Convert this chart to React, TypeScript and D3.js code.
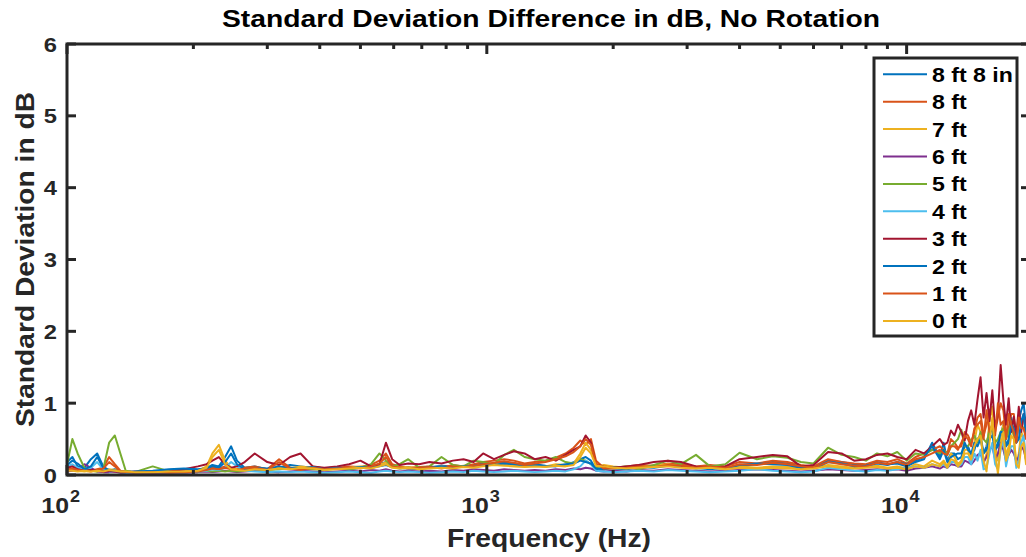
import React from "react";
import * as d3 from "d3";

const freqs = [
  100, 103, 106, 110, 114, 118, 122, 126, 130, 134,
  138, 145, 160, 175, 190, 205, 215, 222, 230, 238,
  246, 254, 265, 280, 300, 320, 340, 360, 385, 410,
  440, 470, 500, 530, 555, 575, 595, 620, 650, 690,
  730, 780, 830, 880, 930, 980, 1040, 1100, 1160, 1230,
  1300, 1380, 1460, 1540, 1610, 1670, 1720, 1770, 1820, 1900,
  2000, 2150, 2300, 2500, 2700, 2900, 3150, 3400, 3700, 4000,
  4400, 4800, 5200, 5600, 6000, 6500, 7000, 7500, 8000, 8500,
  9000, 9500, 10000, 10500, 11000, 11500,
  12000, 12250, 12500, 12750, 13000, 13250, 13500, 13750, 14000, 14250,
  14500, 14750, 15000, 15250, 15500, 15750, 16000, 16250, 16500, 16750,
  17000, 17250, 17500, 17750, 18000, 18250, 18500, 18750, 19000, 19250,
  19500, 19750, 20000,
];

const seriesNames = ["8 ft 8 in", "8 ft", "7 ft", "6 ft", "5 ft", "4 ft", "3 ft", "2 ft", "1 ft", "0 ft"];
const seriesColors = ["#0072BD", "#D95319", "#EDB120", "#7E2F8E", "#77AC30", "#4DBEEE", "#A2142F", "#0072BD", "#D95319", "#EDB120"];

const s8ft8in = [
  0.18, 0.25, 0.12, 0.10, 0.22, 0.30, 0.12, 0.06, 0.08, 0.05,
  0.05, 0.04, 0.05, 0.07, 0.08, 0.07, 0.10, 0.14, 0.12, 0.25,
  0.40, 0.20, 0.10, 0.12, 0.08, 0.10, 0.14, 0.12, 0.10, 0.09,
  0.11, 0.08, 0.10, 0.12, 0.15, 0.18, 0.12, 0.10, 0.09, 0.08,
  0.10, 0.13, 0.12, 0.11, 0.14, 0.16, 0.15, 0.18, 0.16, 0.14,
  0.15, 0.13, 0.12, 0.14, 0.18, 0.22, 0.25, 0.20, 0.08, 0.10,
  0.09, 0.08, 0.10, 0.12, 0.15, 0.13, 0.10, 0.08, 0.10, 0.12,
  0.15, 0.18, 0.16, 0.12, 0.10, 0.20, 0.18, 0.15, 0.14, 0.18,
  0.15, 0.16, 0.12, 0.18, 0.22, 0.45,
  0.25, 0.45, 0.20, 0.30, 0.30, 0.22, 0.25, 0.40, 0.40, 0.28,
  0.35, 0.50, 0.55, 0.30, 0.40, 0.65, 0.60, 0.35, 0.45, 0.55,
  0.70, 0.40, 0.50, 0.80, 0.60, 0.45, 0.75, 0.90, 1.00, 0.65,
  0.70, 0.85, 0.80,
];
const s8ft = [
  0.10, 0.12, 0.08, 0.07, 0.06, 0.08, 0.10, 0.25, 0.15, 0.06,
  0.05, 0.04, 0.05, 0.04, 0.05, 0.06, 0.08, 0.10, 0.09, 0.12,
  0.10, 0.08, 0.10, 0.12, 0.08, 0.22, 0.10, 0.08, 0.12, 0.09,
  0.10, 0.12, 0.11, 0.14, 0.20, 0.30, 0.15, 0.12, 0.10, 0.11,
  0.12, 0.10, 0.14, 0.12, 0.15, 0.18, 0.20, 0.22, 0.20, 0.16,
  0.18, 0.20, 0.24, 0.30, 0.38, 0.48, 0.42, 0.50, 0.20, 0.10,
  0.10, 0.12, 0.14, 0.13, 0.16, 0.15, 0.12, 0.14, 0.12, 0.18,
  0.16, 0.20, 0.18, 0.14, 0.12, 0.22, 0.18, 0.16, 0.15, 0.20,
  0.18, 0.22, 0.16, 0.25, 0.30, 0.35,
  0.40, 0.35, 0.30, 0.50, 0.45, 0.38, 0.40, 0.60, 0.55, 0.45,
  0.60, 0.80, 0.85, 0.55, 0.70, 0.90, 0.95, 0.60, 0.80, 1.00,
  0.90, 0.55, 0.65, 0.85, 0.85, 0.50, 0.70, 0.75, 0.80, 0.55,
  0.60, 0.75, 0.70,
];
const s7ft = [
  0.08, 0.07, 0.06, 0.05, 0.06, 0.05, 0.06, 0.08, 0.07, 0.05,
  0.04, 0.04, 0.03, 0.04, 0.05, 0.06, 0.12, 0.30, 0.42, 0.20,
  0.10, 0.08, 0.07, 0.09, 0.08, 0.10, 0.09, 0.12, 0.10, 0.08,
  0.09, 0.10, 0.12, 0.10, 0.14, 0.18, 0.12, 0.10, 0.11, 0.09,
  0.10, 0.12, 0.10, 0.13, 0.12, 0.14, 0.16, 0.15, 0.14, 0.12,
  0.13, 0.12, 0.15, 0.14, 0.16, 0.30, 0.45, 0.35, 0.12, 0.14,
  0.12, 0.10, 0.11, 0.13, 0.15, 0.12, 0.10, 0.11, 0.09, 0.12,
  0.10, 0.12, 0.11, 0.09, 0.10, 0.14, 0.12, 0.10, 0.11, 0.13,
  0.10, 0.12, 0.09, 0.15, 0.12, 0.20,
  0.15, 0.20, 0.12, 0.30, 0.25, 0.15, 0.20, 0.35, 0.35, 0.20,
  0.45, 0.70, 0.60, 0.15, 0.30, 0.75, 0.95, 0.40, 0.20, 0.55,
  0.70, 0.25, 0.40, 0.65, 0.55, 0.15, 0.30, 0.60, 0.50, 0.20,
  0.35, 0.55, 0.45,
];
const s6ft = [
  0.05, 0.06, 0.08, 0.15, 0.10, 0.05, 0.04, 0.04, 0.05, 0.03,
  0.03, 0.03, 0.02, 0.03, 0.03, 0.04, 0.05, 0.04, 0.05, 0.06,
  0.05, 0.04, 0.05, 0.06, 0.05, 0.04, 0.05, 0.06, 0.05, 0.04,
  0.05, 0.06, 0.05, 0.07, 0.06, 0.08, 0.06, 0.05, 0.06, 0.05,
  0.06, 0.05, 0.07, 0.06, 0.08, 0.07, 0.06, 0.08, 0.07, 0.06,
  0.07, 0.06, 0.08, 0.07, 0.09, 0.08, 0.10, 0.09, 0.06, 0.05,
  0.06, 0.05, 0.07, 0.06, 0.08, 0.07, 0.06, 0.05, 0.06, 0.07,
  0.08, 0.07, 0.06, 0.05, 0.06, 0.08, 0.07, 0.06, 0.07, 0.08,
  0.07, 0.08, 0.06, 0.09, 0.10, 0.12,
  0.09, 0.12, 0.10, 0.15, 0.14, 0.12, 0.12, 0.20, 0.18, 0.15,
  0.20, 0.28, 0.30, 0.18, 0.25, 0.35, 0.40, 0.22, 0.30, 0.45,
  0.35, 0.20, 0.28, 0.35, 0.30, 0.20, 0.25, 0.40, 0.35, 0.22,
  0.25, 0.35, 0.30,
];
const s5ft = [
  0.15, 0.50, 0.30, 0.10, 0.06, 0.05, 0.08, 0.45, 0.55, 0.30,
  0.06, 0.04, 0.12, 0.05, 0.04, 0.05, 0.06, 0.05, 0.06, 0.05,
  0.06, 0.05, 0.06, 0.08, 0.07, 0.08, 0.10, 0.09, 0.08, 0.07,
  0.09, 0.08, 0.10, 0.15, 0.30, 0.20, 0.12, 0.15, 0.22, 0.10,
  0.12, 0.25, 0.14, 0.12, 0.20, 0.18, 0.15, 0.28, 0.35, 0.25,
  0.22, 0.20, 0.25, 0.18, 0.16, 0.22, 0.20, 0.15, 0.10, 0.08,
  0.10, 0.12, 0.08, 0.14, 0.20, 0.15, 0.28, 0.12, 0.15, 0.31,
  0.22, 0.26, 0.24, 0.18, 0.16, 0.38, 0.28, 0.25, 0.20, 0.30,
  0.26, 0.32, 0.20, 0.30, 0.28, 0.35,
  0.30, 0.35, 0.28, 0.40, 0.45, 0.50, 0.63, 0.40, 0.40, 0.48,
  0.55, 0.45, 0.60, 0.50, 0.45, 0.60, 0.70, 0.45, 0.50, 0.60,
  0.65, 0.50, 0.60, 0.75, 0.55, 0.60, 0.80, 0.70, 0.65, 0.55,
  0.70, 0.65, 0.60,
];
const s4ft = [
  0.12, 0.15, 0.10, 0.08, 0.10, 0.18, 0.08, 0.05, 0.06, 0.04,
  0.03, 0.03, 0.04, 0.03, 0.04, 0.05, 0.06, 0.08, 0.07, 0.10,
  0.18, 0.12, 0.06, 0.05, 0.04, 0.05, 0.04, 0.05, 0.04, 0.03,
  0.04, 0.05, 0.04, 0.03, 0.05, 0.06, 0.05, 0.04, 0.05, 0.04,
  0.03, 0.04, 0.05, 0.04, 0.06, 0.05, 0.04, 0.05, 0.06, 0.05,
  0.04, 0.05, 0.06, 0.05, 0.08, 0.12, 0.20, 0.15, 0.06, 0.05,
  0.04, 0.05, 0.06, 0.05, 0.07, 0.06, 0.05, 0.04, 0.05, 0.06,
  0.08, 0.06, 0.05, 0.04, 0.05, 0.10, 0.08, 0.06, 0.05, 0.07,
  0.06, 0.08, 0.10, 0.12, 0.10, 0.15,
  0.12, 0.15, 0.10, 0.18, 0.18, 0.12, 0.15, 0.25, 0.25, 0.15,
  0.30, 0.20, 0.35, 0.08, 0.10, 0.30, 0.45, 0.15, 0.08, 0.35,
  0.50, 0.12, 0.30, 0.40, 0.40, 0.10, 0.20, 0.45, 0.55, 0.20,
  0.30, 0.45, 0.40,
];
const s3ft = [
  0.10, 0.12, 0.08, 0.06, 0.07, 0.06, 0.05, 0.06, 0.05, 0.04,
  0.04, 0.05, 0.04, 0.05, 0.08, 0.12, 0.15, 0.20, 0.25, 0.15,
  0.10, 0.12, 0.18, 0.30, 0.18, 0.14, 0.25, 0.30, 0.12, 0.10,
  0.12, 0.15, 0.20, 0.12, 0.15, 0.45, 0.22, 0.14, 0.16, 0.15,
  0.18, 0.16, 0.20, 0.22, 0.18, 0.30, 0.22, 0.28, 0.33, 0.30,
  0.22, 0.25, 0.20, 0.28, 0.35, 0.40, 0.55, 0.45, 0.15, 0.12,
  0.10, 0.12, 0.14, 0.18, 0.20, 0.18, 0.12, 0.10, 0.12, 0.22,
  0.25, 0.28, 0.26, 0.12, 0.14, 0.32, 0.30, 0.20, 0.22, 0.28,
  0.30, 0.25, 0.22, 0.35, 0.30, 0.40,
  0.50, 0.42, 0.45, 0.62, 0.55, 0.70, 0.60, 0.48, 0.75, 0.90,
  0.70, 1.05, 1.36, 0.80, 1.14, 0.75, 1.18, 0.65, 0.85, 1.53,
  1.04, 0.70, 1.07, 0.60, 0.81, 0.55, 0.95, 0.60, 0.85, 0.65,
  0.90, 0.70, 0.75,
];
const s2ft = [
  0.14, 0.20, 0.16, 0.08, 0.12, 0.25, 0.10, 0.07, 0.06, 0.05,
  0.04, 0.05, 0.06, 0.08, 0.09, 0.08, 0.09, 0.12, 0.10, 0.18,
  0.30, 0.15, 0.08, 0.10, 0.09, 0.12, 0.10, 0.09, 0.11, 0.08,
  0.10, 0.09, 0.11, 0.10, 0.12, 0.14, 0.11, 0.09, 0.10, 0.09,
  0.11, 0.12, 0.10, 0.12, 0.13, 0.15, 0.14, 0.16, 0.15, 0.13,
  0.14, 0.12, 0.13, 0.15, 0.16, 0.20, 0.18, 0.16, 0.09, 0.08,
  0.10, 0.09, 0.11, 0.10, 0.13, 0.12, 0.09, 0.10, 0.09, 0.14,
  0.16, 0.15, 0.14, 0.10, 0.09, 0.18, 0.16, 0.12, 0.13, 0.16,
  0.14, 0.18, 0.15, 0.20, 0.25, 0.40,
  0.22, 0.35, 0.18, 0.25, 0.28, 0.30, 0.30, 0.45, 0.35, 0.30,
  0.45, 0.40, 0.50, 0.30, 0.35, 0.50, 0.55, 0.35, 0.40, 0.60,
  0.60, 0.40, 0.45, 0.70, 0.65, 0.45, 0.50, 0.75, 0.85, 0.55,
  0.60, 0.80, 0.75,
];
const s1ft = [
  0.08, 0.09, 0.07, 0.06, 0.05, 0.07, 0.09, 0.18, 0.12, 0.05,
  0.04, 0.03, 0.04, 0.03, 0.04, 0.05, 0.07, 0.09, 0.08, 0.10,
  0.08, 0.07, 0.09, 0.10, 0.07, 0.18, 0.09, 0.07, 0.10, 0.08,
  0.09, 0.10, 0.09, 0.12, 0.16, 0.25, 0.12, 0.10, 0.09, 0.10,
  0.11, 0.09, 0.12, 0.11, 0.13, 0.15, 0.17, 0.19, 0.17, 0.14,
  0.16, 0.18, 0.22, 0.26, 0.32, 0.40, 0.50, 0.42, 0.16, 0.09,
  0.09, 0.10, 0.12, 0.11, 0.14, 0.13, 0.10, 0.12, 0.10, 0.15,
  0.14, 0.17, 0.15, 0.12, 0.10, 0.18, 0.15, 0.13, 0.12, 0.17,
  0.15, 0.18, 0.14, 0.22, 0.25, 0.30,
  0.35, 0.30, 0.28, 0.40, 0.40, 0.35, 0.45, 0.55, 0.50, 0.40,
  0.65, 0.70, 0.75, 0.50, 0.90, 0.60, 0.70, 0.55, 1.00, 0.70,
  0.75, 0.50, 0.85, 0.70, 0.60, 0.45, 0.80, 0.65, 0.65, 0.50,
  0.75, 0.65, 0.60,
];
const s0ft = [
  0.06, 0.06, 0.05, 0.06, 0.05, 0.06, 0.05, 0.07, 0.06, 0.05,
  0.05, 0.04, 0.04, 0.05, 0.05, 0.06, 0.10, 0.25, 0.35, 0.15,
  0.08, 0.07, 0.06, 0.08, 0.07, 0.09, 0.08, 0.10, 0.09, 0.07,
  0.08, 0.09, 0.10, 0.09, 0.12, 0.15, 0.10, 0.09, 0.10, 0.08,
  0.09, 0.10, 0.09, 0.11, 0.10, 0.12, 0.14, 0.13, 0.12, 0.11,
  0.12, 0.11, 0.13, 0.12, 0.14, 0.25, 0.38, 0.30, 0.13, 0.12,
  0.10, 0.09, 0.10, 0.11, 0.12, 0.10, 0.09, 0.10, 0.08, 0.10,
  0.09, 0.10, 0.09, 0.08, 0.09, 0.12, 0.10, 0.09, 0.10, 0.11,
  0.09, 0.10, 0.08, 0.12, 0.10, 0.15,
  0.12, 0.18, 0.10, 0.22, 0.20, 0.12, 0.18, 0.30, 0.30, 0.22,
  0.40, 0.50, 0.55, 0.20, 0.05, 0.45, 0.80, 0.30, 0.02, 0.40,
  0.60, 0.20, 0.30, 0.55, 0.50, 0.15, 0.10, 0.40, 0.45, 0.15,
  0.30, 0.45, 0.40,
];

const seriesValues = [s8ft8in, s8ft, s7ft, s6ft, s5ft, s4ft, s3ft, s2ft, s1ft, s0ft];

const yTicks = [0, 1, 2, 3, 4, 5, 6];
const xMajorTicks = [100, 1000, 10000];
const xMajorExp = ["2", "3", "4"];
const xMinorTicks = [200, 300, 400, 500, 600, 700, 800, 900, 2000, 3000, 4000, 5000, 6000, 7000, 8000, 9000];

const W = 1026;
const H = 557;
const L = 67;
const T = 44;
const R = 1030;
const B = 475;
const AX = "#262626";
const FONT = "'Liberation Sans', Arial, Helvetica, sans-serif";

function WideText(props: { x: number; y: number; size: number; sx?: number; anchor?: string; fill?: string; children: React.ReactNode }) {
  const { x, y, size, sx = 1.13, anchor = "start", fill = AX, children } = props;
  return (
    <text
      transform={`translate(${x},${y}) scale(${sx},1)`}
      textAnchor={anchor}
      fontSize={size}
      fontWeight="bold"
      fill={fill}
    >
      {children}
    </text>
  );
}

export default function App() {
  const x = d3.scaleLog().domain([100, 20000]).range([L, R + 3]);
  const y = d3.scaleLinear().domain([0, 6]).range([B, T]);
  const line = d3
    .line<number>()
    .defined((_, i) => i < freqs.length)
    .x((_, i) => x(freqs[i]))
    .y((d) => y(d));

  return (
    <div style={{ position: "absolute", left: 0, top: 0, width: W, height: H, overflow: "hidden", background: "#fff" }}>
      <svg width={W} height={H} style={{ display: "block" }} fontFamily={FONT}>
        <defs>
          <clipPath id="plotclip">
            <rect x={L} y={T} width={R - L} height={B - T} />
          </clipPath>
        </defs>
        <rect x={0} y={0} width={W} height={H} fill="#fff" />
        <g clipPath="url(#plotclip)">
          {seriesValues.map((vals, k) => (
            <path key={k} d={line(vals) || ""} fill="none" stroke={seriesColors[k]} strokeWidth={2} strokeLinejoin="round" />
          ))}
        </g>
        <rect x={L} y={T} width={R - L} height={B - T} fill="none" stroke={AX} strokeWidth={3} />
        {yTicks.map((t) => (
          <g key={t}>
            <line x1={L} x2={L + 9} y1={y(t)} y2={y(t)} stroke={AX} strokeWidth={3} />
            <line x1={R} x2={R - 9} y1={y(t)} y2={y(t)} stroke={AX} strokeWidth={3} />
            <WideText x={L - 10} y={y(t) + 7.5} size={21} anchor="end">
              {t}
            </WideText>
          </g>
        ))}
        {xMajorTicks.map((t, i) => (
          <g key={t}>
            <line x1={x(t)} x2={x(t)} y1={T} y2={T + 10} stroke={AX} strokeWidth={3} />
            <line x1={x(t)} x2={x(t)} y1={B} y2={B - 10} stroke={AX} strokeWidth={3} />
            <WideText x={x(t) + 2} y={513} size={22} anchor="end">
              10
            </WideText>
            <WideText x={x(t) + 3} y={502} size={16} anchor="start">
              {xMajorExp[i]}
            </WideText>
          </g>
        ))}
        {xMinorTicks.map((t) => (
          <g key={t}>
            <line x1={x(t)} x2={x(t)} y1={T} y2={T + 5} stroke={AX} strokeWidth={3} />
            <line x1={x(t)} x2={x(t)} y1={B} y2={B - 5} stroke={AX} strokeWidth={3} />
          </g>
        ))}
        <text x={551} y={27} textAnchor="middle" fontSize={24} fontWeight="bold" fill="#000" textLength={658} lengthAdjust="spacingAndGlyphs">
          Standard Deviation Difference in dB, No Rotation
        </text>
        <text x={549} y={547} textAnchor="middle" fontSize={25} fontWeight="bold" fill={AX} textLength={204} lengthAdjust="spacingAndGlyphs">
          Frequency (Hz)
        </text>
        <text
          transform={`translate(34, ${(T + B) / 2}) rotate(-90)`}
          textAnchor="middle"
          fontSize={25}
          fontWeight="bold"
          fill={AX}
          textLength={335}
          lengthAdjust="spacingAndGlyphs"
        >
          Standard Deviation in dB
        </text>
        <g>
          <rect x={874} y={58} width={143} height={278} fill="#fff" stroke={AX} strokeWidth={3} />
          {seriesNames.map((name, k) => {
            const cy = 74.3 + k * 27.4;
            return (
              <g key={name}>
                <line x1={883} x2={927} y1={cy} y2={cy} stroke={seriesColors[k]} strokeWidth={2} />
                <WideText x={932} y={cy + 7.5} size={21} sx={1.1} fill="#000">
                  {name}
                </WideText>
              </g>
            );
          })}
        </g>
      </svg>
    </div>
  );
}
